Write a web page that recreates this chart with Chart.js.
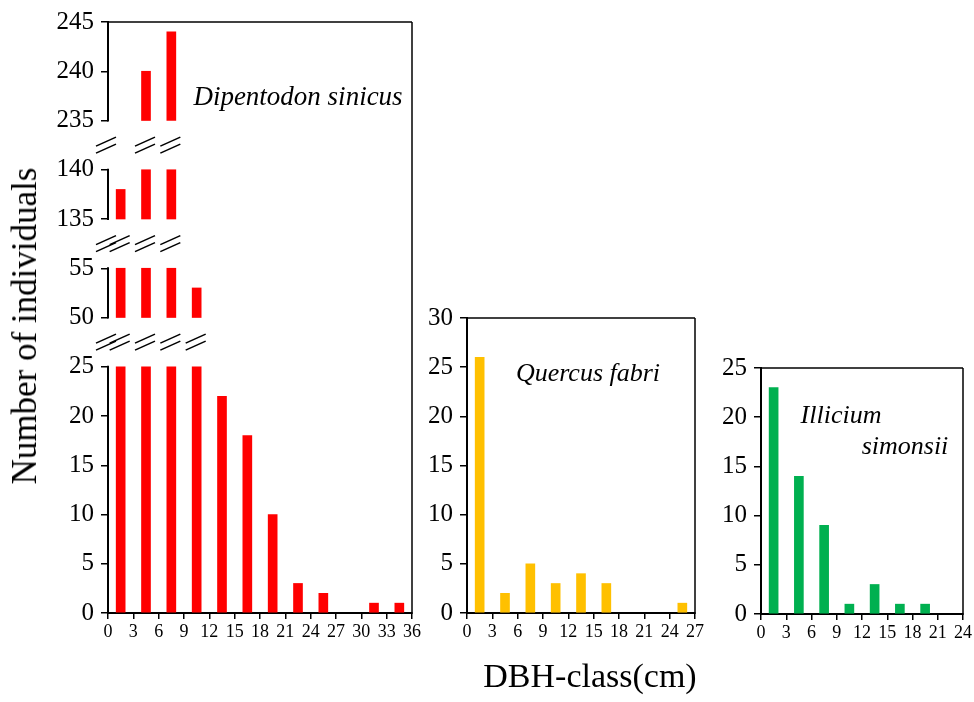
<!DOCTYPE html>
<html>
<head>
<meta charset="utf-8">
<script src="https://cdn.jsdelivr.net/npm/chart.js@4.4.0/dist/chart.umd.min.js"></script>
<style>
    html, body { margin: 0; padding: 0; background: #fff; }
    body { width: 974px; height: 702px; position: relative; overflow: hidden; }
    .box { position: absolute; }
    .axis-title { position: absolute; font-family: 'Liberation Serif', 'Times New Roman', serif; color: #000; white-space: nowrap; line-height: normal; }
</style>
</head>
<body>
<div class="box" id="dipBox"><canvas id="dipChart"></canvas></div>
<div class="box" id="querBox"><canvas id="querChart"></canvas></div>
<div class="box" id="illiBox"><canvas id="illiChart"></canvas></div>
<div class="axis-title" id="yTitle">Number of individuals</div>
<div class="axis-title" id="xTitle">DBH-class(cm)</div>

<script>
// DBH class midpoints (cm) and counts
const dipClasses = [1.5, 4.5, 7.5, 10.5, 13.5, 16.5, 19.5, 22.5, 25.5, 28.5, 31.5, 34.5];
const dipCounts = [138, 240, 244, 53, 22, 18, 10, 3, 2, 0, 1, 1];

const querClasses = [1.5, 4.5, 7.5, 10.5, 13.5, 16.5, 19.5, 22.5, 25.5];
const querCounts = [26, 2, 5, 3, 4, 3, 0, 0, 1];

const illiClasses = [1.5, 4.5, 7.5, 10.5, 13.5, 16.5, 19.5, 22.5];
const illiCounts = [23, 14, 9, 1, 3, 1, 1, 0];

// broken y axis of the first panel: visible ranges, bottom to top
const dipSegments = [[0, 25], [50, 55], [135, 140], [235, 245]];
const gapUnits = 5;

// x axis ranges (cm), ticks every 3
const dipXMax = 36;
const querXMax = 27;
const illiXMax = 24;
const xStep = 3;
const querYMax = 30;
const illiYMax = 25;
const yStep = 5;

const FONT = "'Liberation Serif', 'Times New Roman', serif";
Chart.defaults.font.family = FONT;
Chart.defaults.color = '#000';

// map a real count onto the compressed axis and back
function toVirtual(v) {
    let offset = 0;
    for (let i = 0; i < dipSegments.length; i++) {
        const [lo, hi] = dipSegments[i];
        if (v <= hi || i === dipSegments.length - 1) return offset + (Math.max(v, lo) - lo);
        offset += (hi - lo) + gapUnits;
    }
}
function fromVirtual(t) {
    let offset = 0;
    for (const [lo, hi] of dipSegments) {
        if (t >= offset - 1e-6 && t <= offset + (hi - lo) + 1e-6) return Math.round(lo + t - offset);
        offset += (hi - lo) + gapUnits;
    }
    return null;
}

// split each tall bar into one floating piece per visible range
const dipPieces = [];
dipCounts.forEach((n, i) => {
    dipSegments.forEach(([lo, hi]) => {
        if (n > lo) dipPieces.push({ x: dipClasses[i], y: [toVirtual(lo), toVirtual(Math.min(n, hi))] });
    });
});

// empty classes get no bar at all
const toPoints = (classes, counts) => classes.map((c, i) => ({ x: c, y: counts[i] > 0 ? counts[i] : null }));

function line(ctx, x1, y1, x2, y2) {
    ctx.beginPath();
    ctx.moveTo(x1, y1);
    ctx.lineTo(x2, y2);
    ctx.stroke();
}

// top and right frame lines for every panel
const frame = {
    id: 'frame',
    afterDraw(chart) {
        const { ctx, chartArea: a } = chart;
        ctx.save();
        ctx.strokeStyle = '#000';
        ctx.lineWidth = 1.5;
        line(ctx, a.left, a.top, a.right, a.top);
        line(ctx, a.right, a.top, a.right, a.bottom + 1);
        ctx.restore();
    }
};

// species name written inside the panel
const speciesLabel = {
    id: 'speciesLabel',
    afterDraw(chart, args, opts) {
        if (!opts.lines) return;
        const { ctx } = chart;
        ctx.save();
        ctx.fillStyle = '#000';
        ctx.font = `italic ${opts.size}px ${FONT}`;
        ctx.textAlign = 'center';
        ctx.textBaseline = 'alphabetic';
        opts.lines.forEach(l => ctx.fillText(l.text, l.x, l.y));
        ctx.restore();
    }
};

// broken left axis with the // marks
const brokenAxis = {
    id: 'brokenAxis',
    afterDraw(chart) {
        const { ctx, chartArea: a, scales: { x, y } } = chart;
        ctx.save();
        ctx.strokeStyle = '#000';
        ctx.lineWidth = 2;
        dipSegments.forEach(([lo, hi]) => {
            line(ctx, a.left, y.getPixelForValue(toVirtual(lo)) + 1, a.left, y.getPixelForValue(toVirtual(hi)) - 1);
        });
        ctx.lineWidth = 1.6;
        const mark = (cx, cy) => {
            line(ctx, cx - 10, cy + 1, cx + 10, cy - 8);
            line(ctx, cx - 10, cy + 8, cx + 10, cy - 1);
        };
        for (let g = 0; g < dipSegments.length - 1; g++) {
            const cy = y.getPixelForValue(toVirtual(dipSegments[g][1]) + gapUnits / 2);
            mark(a.left - 2, cy);
            dipCounts.forEach((n, i) => {
                if (n > dipSegments[g + 1][0]) mark(x.getPixelForValue(dipClasses[i]) - 1, cy);
            });
        }
        ctx.restore();
    }
};

function panelOptions(p) {
    return {
        responsive: false,
        animation: false,
        devicePixelRatio: 1,
        layout: { padding: { top: p.padTop, right: p.padRight, left: 0, bottom: 0 } },
        plugins: {
            legend: { display: false },
            tooltip: { enabled: false },
            speciesLabel: p.label
        },
        scales: {
            x: {
                type: 'linear',
                min: 0,
                max: p.xMax,
                offset: false,
                afterFit: s => { s.height = p.xHeight; },
                ticks: { stepSize: xStep, padding: 2, font: { size: 18 }, color: '#000', maxRotation: 0, autoSkip: false },
                grid: { offset: false, drawOnChartArea: false, drawTicks: true, tickLength: 6, color: '#000', lineWidth: 1.5 },
                border: { display: true, color: '#000', width: 2 }
            },
            y: {
                type: 'linear',
                min: 0,
                max: p.yMax,
                afterFit: s => { s.width = p.yWidth; },
                ticks: { stepSize: yStep, padding: 7, font: { size: 25 }, color: '#000', callback: p.yCallback || (v => v) },
                grid: { drawOnChartArea: false, drawTicks: true, tickLength: 7, color: '#000', lineWidth: 1.5 },
                border: { display: p.yBorder !== false, color: '#000', width: 2 }
            }
        }
    };
}

function placeBox(id, canvasId, left, top, w, h) {
    const box = document.getElementById(id);
    box.style.left = left + 'px';
    box.style.top = top + 'px';
    box.style.width = w + 'px';
    box.style.height = h + 'px';
    const c = document.getElementById(canvasId);
    c.width = w;
    c.height = h;
    return c.getContext('2d');
}

// panel 1: Dipentodon sinicus (broken axis)
const dipBox = { left: 0, top: 0, w: 430, h: 660 };
new Chart(placeBox('dipBox', 'dipChart', dipBox.left, dipBox.top, dipBox.w, dipBox.h), {
    type: 'bar',
    data: {
        datasets: [{
            data: dipPieces,
            backgroundColor: '#FF0000',
            barThickness: 9,
            borderWidth: 0
        }]
    },
    options: panelOptions({
        padTop: 19, padRight: 18, xHeight: 47, yWidth: 108,
        xMax: dipXMax, yMax: toVirtual(dipSegments[dipSegments.length - 1][1]),
        yBorder: false,
        yCallback: v => { const r = fromVirtual(v); return r === null ? '' : String(r); },
        label: { size: 27, lines: [{ text: 'Dipentodon sinicus', x: 298 - dipBox.left, y: 105 - dipBox.top }] }
    }),
    plugins: [frame, brokenAxis, speciesLabel]
});

// panel 2: Quercus fabri
const querBox = { left: 420, top: 280, w: 290, h: 380 };
new Chart(placeBox('querBox', 'querChart', querBox.left, querBox.top, querBox.w, querBox.h), {
    type: 'bar',
    data: {
        datasets: [{
            data: toPoints(querClasses, querCounts),
            backgroundColor: '#FFC000',
            barThickness: 9,
            borderWidth: 0
        }]
    },
    options: panelOptions({
        padTop: 38, padRight: 15, xHeight: 47, yWidth: 47,
        xMax: querXMax, yMax: querYMax,
        label: { size: 26, lines: [{ text: 'Quercus fabri', x: 588 - querBox.left, y: 381 - querBox.top }] }
    }),
    plugins: [frame, speciesLabel]
});

// panel 3: Illicium simonsii
const illiBox = { left: 705, top: 330, w: 269, h: 330 };
new Chart(placeBox('illiBox', 'illiChart', illiBox.left, illiBox.top, illiBox.w, illiBox.h), {
    type: 'bar',
    data: {
        datasets: [{
            data: toPoints(illiClasses, illiCounts),
            backgroundColor: '#00B050',
            barThickness: 9,
            borderWidth: 0
        }]
    },
    options: panelOptions({
        padTop: 38, padRight: 9, xHeight: 46, yWidth: 56,
        xMax: illiXMax, yMax: illiYMax,
        label: { size: 26, lines: [
            { text: 'Illicium', x: 841 - illiBox.left, y: 423 - illiBox.top },
            { text: 'simonsii', x: 905 - illiBox.left, y: 454 - illiBox.top }
        ] }
    }),
    plugins: [frame, speciesLabel]
});

// shared axis titles
const yTitle = document.getElementById('yTitle');
yTitle.style.fontSize = '35px';
yTitle.style.left = '25px';
yTitle.style.top = '326px';
yTitle.style.transform = 'translate(-50%, -50%) rotate(-90deg)';

const xTitle = document.getElementById('xTitle');
xTitle.style.fontSize = '34px';
xTitle.style.left = '590px';
xTitle.style.top = '676px';
xTitle.style.transform = 'translate(-50%, -50%)';
</script>
</body>
</html>
